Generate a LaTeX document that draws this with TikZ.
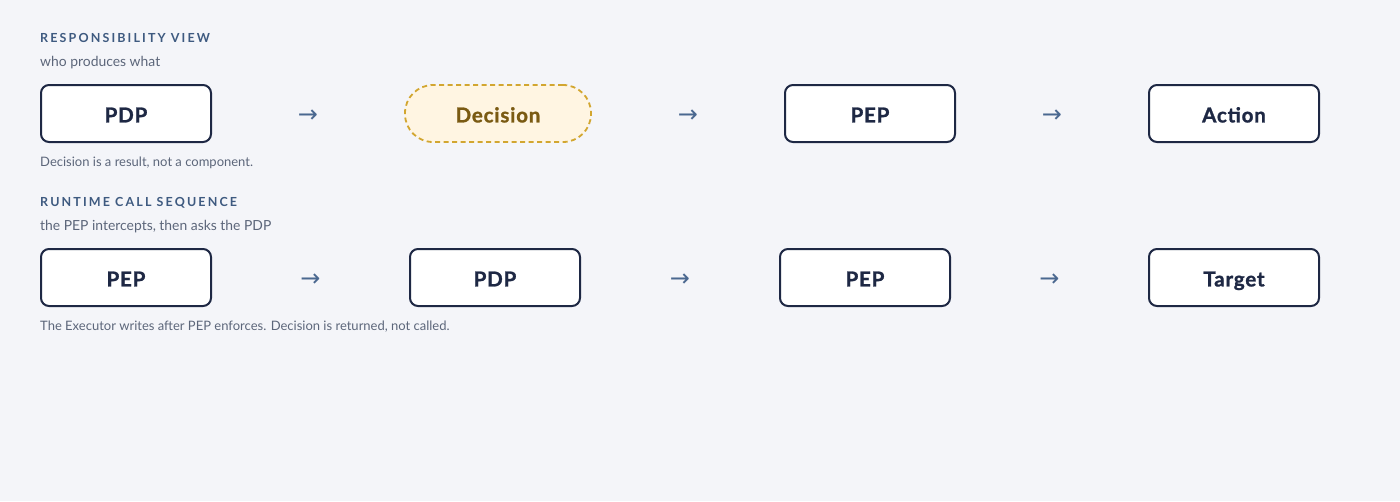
\documentclass[tikz,border=0pt]{standalone}
\usepackage{fontspec}
\setmainfont{Lato}
\newfontfamily\capsfont[LetterSpace=17]{Lato}
\newfontfamily\boxfont[LetterSpace=4,BoldFeatures={FakeBold=1.2,LetterSpace=4}]{Lato}
\newfontfamily\arrowfont{DejaVu Sans}
\usetikzlibrary{calc}
\definecolor{bgpage}{HTML}{F4F5F9}
\definecolor{navy}{HTML}{1E2844}
\definecolor{slateblue}{HTML}{3E5A80}
\definecolor{muted}{HTML}{5C667A}
\definecolor{goldline}{HTML}{D2A630}
\definecolor{goldfill}{HTML}{FFF5E2}
\definecolor{goldtext}{HTML}{7A5A12}
\definecolor{arrowblue}{HTML}{4A6890}
\tikzset{
  comp/.style={draw=navy, line width=2pt, fill=white, rounded corners=8pt,
    minimum width=170pt, minimum height=57pt, inner sep=0pt,
    text height=17.8pt, text depth=0pt,
    font=\boxfont\fontsize{20.5}{24}\selectfont\bfseries, text=navy},
  result/.style={draw=goldline, line width=1.8pt, dash pattern=on 5pt off 3.5pt,
    fill=goldfill, rounded corners=28pt, minimum width=186pt, minimum height=57pt,
    inner sep=0pt, text height=17.8pt, text depth=0pt,
    font=\boxfont\fontsize{20.5}{24}\selectfont\bfseries, text=goldtext},
  heading/.style={anchor=base west, inner sep=0pt, text=slateblue,
    font=\capsfont\fontsize{12.5}{15}\selectfont\bfseries},
  sub/.style={anchor=base west, inner sep=0pt, text=muted, font=\fontsize{13.9}{16}\selectfont},
  note/.style={anchor=base west, inner sep=0pt, text=muted, font=\fontsize{13}{15}\selectfont},
  flow/.style={text=arrowblue, font=\arrowfont\fontsize{24}{28}\selectfont, inner sep=0pt, yshift=-2.5pt}
}
\begin{document}
\begin{tikzpicture}[x=1pt,y=-1pt]
\useasboundingbox[fill=bgpage] (0,0) rectangle (1400,501);
% responsibility view
\node[heading] (h1) at (40,42) {RESPONSIBILITY VIEW};
\node[sub] (s1) at (40,66) {who produces what};
\node[comp] (pdp1) at (126,113.5) {PDP};
\node[result] (dec1) at (498,113.5) {Decision};
\node[comp] (pep1) at (870,113.5) {PEP};
\node[comp] (act1) at (1234,113.5) {Action};
\node[flow] (a1) at ($(pdp1.east)!0.5!(dec1.west)$) {→};
\node[flow] (a2) at ($(dec1.east)!0.5!(pep1.west)$) {→};
\node[flow] (a3) at ($(pep1.east)!0.5!(act1.west)$) {→};
\node[note] (n1) at (40,166) {Decision is a result, not a component.};
% runtime call sequence
\node[heading] (h2) at (40,206) {RUNTIME CALL SEQUENCE};
\node[sub] (s2) at (40,230) {the PEP intercepts, then asks the PDP};
\node[comp] (pep2) at (126,277.5) {PEP};
\node[comp] (pdp2) at (495,277.5) {PDP};
\node[comp] (pep3) at (865,277.5) {PEP};
\node[comp] (tgt2) at (1234,277.5) {Target};
\node[flow] (b1) at ($(pep2.east)!0.5!(pdp2.west)$) {→};
\node[flow] (b2) at ($(pdp2.east)!0.5!(pep3.west)$) {→};
\node[flow] (b3) at ($(pep3.east)!0.5!(tgt2.west)$) {→};
\node[note] (n2) at (40,330) {The Executor writes after PEP enforces. Decision is returned, not called.};
\end{tikzpicture}
\end{document}
